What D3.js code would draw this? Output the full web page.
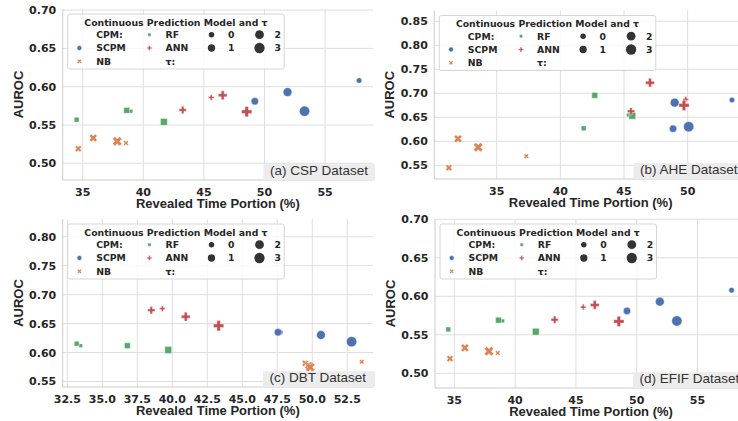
<!DOCTYPE html>
<html>
<head>
<meta charset="utf-8">
<script src="https://cdn.jsdelivr.net/npm/d3@7"></script>
<style>
  body { margin: 0; background: #fff; }
  svg { display: block; }
</style>
</head>
<body>
<div id="chart"></div>
<script>
// ---- data (rows: SCPM, NB, RF, ANN ; columns: tau 0..3) ----
const models = ["SCPM", "NB", "RF", "ANN"];
const taus = [0, 1, 2, 3];

const cspX = [[57.8, 49.2, 51.9, 53.3], [38.57, 34.64, 35.87, 37.85], [38.98, 34.5, 38.63, 41.7], [45.6, 43.25, 46.55, 48.53]];
const cspY = [[0.608, 0.581, 0.593, 0.568], [0.5265, 0.519, 0.533, 0.5287], [0.568, 0.557, 0.569, 0.554], [0.586, 0.5696, 0.5888, 0.5674]];

const aheX = [[53.48, 48.85, 48.98, 50.08], [37.33, 31.25, 31.96, 33.55], [45.34, 41.83, 42.7, 45.65], [49.85, 45.55, 47.04, 49.71]];
const aheY = [[0.686, 0.6263, 0.6804, 0.6304], [0.5688, 0.545, 0.6054, 0.5875], [0.6548, 0.6271, 0.6958, 0.6533], [0.6875, 0.6625, 0.7221, 0.675]];

const dbtX = [[47.7, 47.55, 50.62, 52.81], [53.54, 49.5, 49.75, 49.85], [33.46, 33.17, 36.79, 39.71], [39.29, 38.5, 40.96, 43.31]];
const dbtY = [[0.635, 0.635, 0.6303, 0.6187], [0.5842, 0.5815, 0.5775, 0.5745], [0.6118, 0.6153, 0.6118, 0.6044], [0.6757, 0.673, 0.6619, 0.6463]];

const efifX = [[57.8, 49.2, 51.9, 53.3], [38.57, 34.64, 35.87, 37.85], [38.98, 34.5, 38.63, 41.7], [45.6, 43.25, 46.55, 48.53]];
const efifY = [[0.608, 0.581, 0.593, 0.568], [0.5265, 0.519, 0.533, 0.5287], [0.568, 0.557, 0.569, 0.554], [0.586, 0.5696, 0.5888, 0.5674]];

// tick labels
const cspXTicks = [35, 40, 45, 50, 55];
const cspYTicks = [0.50, 0.55, 0.60, 0.65, 0.70];
const aheXTicks = [35, 40, 45, 50];
const aheYTicks = [0.55, 0.60, 0.65, 0.70, 0.75, 0.80, 0.85];
const dbtXTicks = [32.5, 35.0, 37.5, 40.0, 42.5, 45.0, 47.5, 50.0, 52.5];
const dbtYTicks = [0.55, 0.60, 0.65, 0.70, 0.75, 0.80];
const efifXTicks = [35, 40, 45, 50, 55];
const efifYTicks = [0.50, 0.55, 0.60, 0.65, 0.70];

const panelLabels = ["(a) CSP Dataset", "(b) AHE Dataset", "(c) DBT Dataset", "(d) EFIF Dataset"];

// ---- style ----
const width = 738, height = 421;
const colors = { SCPM: "#4c72b0", NB: "#dd8452", RF: "#55a868", ANN: "#c44e52" };
const tauDiam = [5.5, 7.3, 8.8, 10.3];
const tickFont = "DejaVu Sans, sans-serif";
const titleFont = "Liberation Sans, Arial, sans-serif";

function markerPath(model, d) {
  if (model === "SCPM") return d3.symbol(d3.symbolCircle, Math.PI * d * d / 4)();
  if (model === "RF") { const s = d * 0.66; return d3.symbol(d3.symbolSquare, s * s)(); }
  const s = model === "ANN" ? d * 1.0 : d * 0.97;
  return d3.symbol(d3.symbolCross, 5 * s * s / 9)();
}
function markerRot(model) { return model === "NB" ? " rotate(45)" : ""; }

const svg = d3.select("#chart").append("svg")
  .attr("width", width)
  .attr("height", height);

// panel layout (pixel boxes + axis domains)
const panels = [
  { xs: cspX, ys: cspY, xTicks: cspXTicks, yTicks: cspYTicks, xf: d3.format("d"),
    left: 62.7, right: 373, top: 9, bottom: 180, xDom: [33.35, 58.95], yDom: [0.4782, 0.7014], labX: 270 },
  { xs: aheX, ys: aheY, xTicks: aheXTicks, yTicks: aheYTicks, xf: d3.format("d"),
    left: 434.3, right: 747, top: 10.5, bottom: 179, xDom: [30.10, 54.66], yDom: [0.5215, 0.8725], labX: 640 },
  { xs: dbtX, ys: dbtY, xTicks: dbtXTicks, yTicks: dbtYTicks, xf: d3.format(".1f"),
    left: 62.7, right: 373, top: 219, bottom: 387, xDom: [32.17, 54.34], yDom: [0.5405, 0.8306], labX: 269.5 },
  { xs: efifX, ys: efifY, xTicks: efifXTicks, yTicks: efifYTicks, xf: d3.format("d"),
    left: 435, right: 747, top: 219, bottom: 388, xDom: [33.41, 59.07], yDom: [0.4809, 0.7004], labX: 639.5 }
];

panels.forEach((p, i) => {
  const x = d3.scaleLinear().domain(p.xDom).range([p.left, p.right]);
  const y = d3.scaleLinear().domain(p.yDom).range([p.bottom, p.top]);
  const g = svg.append("g");

  const clipId = "clip" + i;
  svg.append("clipPath").attr("id", clipId)
    .append("rect")
    .attr("x", p.left).attr("y", p.top - 8)
    .attr("width", Math.min(p.right, width) - p.left + 2)
    .attr("height", p.bottom - p.top + 8);

  // grid
  g.selectAll(".gx").data(p.xTicks).enter().append("line")
    .attr("x1", d => x(d)).attr("x2", d => x(d))
    .attr("y1", p.top).attr("y2", p.bottom)
    .attr("stroke", "#dedede").attr("stroke-width", 1);
  g.selectAll(".gy").data(p.yTicks).enter().append("line")
    .attr("x1", p.left).attr("x2", p.right)
    .attr("y1", d => y(d)).attr("y2", d => y(d))
    .attr("stroke", "#dedede").attr("stroke-width", 1);

  // spines (left + bottom)
  g.append("line").attr("x1", p.left).attr("x2", p.left).attr("y1", p.top).attr("y2", p.bottom)
    .attr("stroke", "#cccccc");
  g.append("line").attr("x1", p.left).attr("x2", p.right).attr("y1", p.bottom).attr("y2", p.bottom)
    .attr("stroke", "#cccccc");

  // tick labels
  g.selectAll(".tx").data(p.xTicks).enter().append("text")
    .attr("x", d => x(d)).attr("y", p.bottom + 16)
    .attr("text-anchor", "middle")
    .attr("font-family", tickFont).attr("font-weight", "bold").attr("font-size", 11)
    .attr("fill", "#262626")
    .text(d => p.xf(d));
  g.selectAll(".ty").data(p.yTicks).enter().append("text")
    .attr("x", p.left - 6.5).attr("y", d => y(d)).attr("dy", "0.36em")
    .attr("text-anchor", "end")
    .attr("font-family", tickFont).attr("font-weight", "bold").attr("font-size", 11)
    .attr("fill", "#262626")
    .text(d => d3.format(".2f")(d));

  // axis titles
  g.append("text")
    .attr("x", (p.left + p.right) / 2).attr("y", p.bottom + 28.3)
    .attr("text-anchor", "middle")
    .attr("font-family", titleFont).attr("font-weight", "bold").attr("font-size", 13)
    .attr("fill", "#262626")
    .text("Revealed Time Portion (%)");
  g.append("text")
    .attr("transform", `translate(${p.left - 40},${(p.top + p.bottom) / 2}) rotate(-90)`)
    .attr("text-anchor", "middle")
    .attr("font-family", titleFont).attr("font-weight", "bold").attr("font-size", 13)
    .attr("fill", "#262626")
    .text("AUROC");

  // points
  const pts = [];
  models.forEach((m, mi) => taus.forEach((t, ti) => pts.push({ m, t, x: p.xs[mi][ti], y: p.ys[mi][ti] })));
  const plot = g.append("g").attr("clip-path", `url(#${clipId})`);
  plot.selectAll("path").data(pts).enter().append("path")
    .attr("d", d => markerPath(d.m, tauDiam[d.t]))
    .attr("transform", d => `translate(${x(d.x)},${y(d.y)})` + markerRot(d.m))
    .attr("fill", d => colors[d.m])
    .attr("stroke", "#fff").attr("stroke-width", 0.4);

  // dataset label box
  const lab = plot.append("g");
  lab.append("text")
    .attr("x", p.labX).attr("y", p.bottom - 5)
    .attr("font-family", titleFont).attr("font-size", 13.5)
    .attr("fill", "#333")
    .text(panelLabels[i]);
  lab.insert("rect", "text")
    .attr("x", p.labX - 6.5).attr("y", p.bottom - 15.8)
    .attr("width", 120).attr("height", 15.8)
    .attr("fill", "#ececec");

  // legend
  const lx = p.left + 5, ly = p.top + 5;
  const lg = g.append("g").attr("transform", `translate(${lx},${ly})`);
  lg.append("rect").attr("x", 0).attr("y", 0).attr("width", 216.5).attr("height", 55)
    .attr("rx", 2).attr("fill", "#fff").attr("fill-opacity", 0.8)
    .attr("stroke", "#d6d6d6").attr("stroke-width", 1);
  const lf = (sel) => sel.attr("font-family", tickFont).attr("font-weight", "bold")
    .attr("font-size", 9.3).attr("fill", "#262626");
  lf(lg.append("text").attr("x", 108.2).attr("y", 8.6).attr("dy", "0.36em")
    .attr("text-anchor", "middle").text("Continuous Prediction Model and τ"));

  const rowY = [20.7, 34, 47.3];
  const entries = [
    { col: 0, row: 0, label: "CPM:" },
    { col: 0, row: 1, label: "SCPM", hue: "SCPM" },
    { col: 0, row: 2, label: "NB", hue: "NB" },
    { col: 1, row: 0, label: "RF", hue: "RF" },
    { col: 1, row: 1, label: "ANN", hue: "ANN" },
    { col: 1, row: 2, label: "τ:" },
    { col: 2, row: 0, label: String(taus[0]), size: 0 },
    { col: 2, row: 1, label: String(taus[1]), size: 1 },
    { col: 3, row: 0, label: String(taus[2]), size: 2 },
    { col: 3, row: 1, label: String(taus[3]), size: 3 }
  ];
  const handleX = [11.7, 81.7, 143.8, 191.8];
  const textX = [28.5, 97.8, 160.2, 206.7];
  entries.forEach(e => {
    if (e.hue) {
      lg.append("path").attr("d", markerPath(e.hue, 4.8))
        .attr("transform", `translate(${handleX[e.col]},${rowY[e.row]})` + markerRot(e.hue))
        .attr("fill", colors[e.hue]).attr("stroke", "#fff").attr("stroke-width", 0.4);
    }
    if (e.size !== undefined) {
      lg.append("circle").attr("cx", handleX[e.col]).attr("cy", rowY[e.row])
        .attr("r", tauDiam[e.size] / 2).attr("fill", "#333");
    }
    lf(lg.append("text").attr("x", textX[e.col]).attr("y", rowY[e.row]).attr("dy", "0.36em").text(e.label));
  });
});
</script>
</body>
</html>
